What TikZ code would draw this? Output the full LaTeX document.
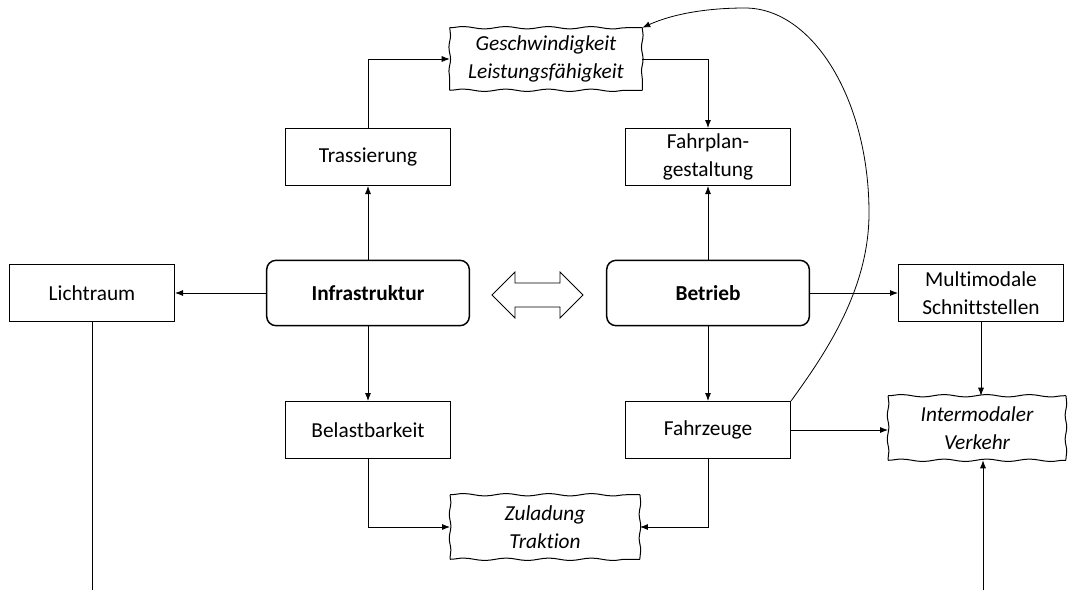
\documentclass[tikz,border=0pt]{standalone}
\usepackage{fontspec}
\setmainfont[Ligatures=NoCommon]{Carlito}
\usetikzlibrary{arrows.meta,decorations.pathmorphing,calc}
\newcommand\wavyborder[1]{%
  \draw[wvh] (#1.north west) -- (#1.north east);
  \draw[wvh] (#1.south west) -- (#1.south east);
  \draw[wvv] (#1.north west) -- (#1.south west);
  \draw[wvv] (#1.north east) -- (#1.south east);}
\begin{document}
\begin{tikzpicture}[x=0.75pt,y=-0.75pt,
  every node/.style={font=\fontsize{16}{21}\selectfont, align=center, inner sep=0pt},
  box/.style={draw, line width=0.75pt, minimum width=123.75pt, minimum height=42.75pt},
  rbox/.style={draw, line width=1.1pt, rounded corners=7pt, minimum width=152pt, minimum height=49pt, font=\fontsize{16}{21}\selectfont\bfseries},
  wavy/.style={font=\fontsize{16}{21}\selectfont\itshape},
  wvh/.style={line width=0.75pt, decorate, decoration={snake, amplitude=0.9pt, segment length=32pt}},
  wvv/.style={line width=0.75pt, decorate, decoration={snake, amplitude=0.6pt, segment length=18pt}},
  arr/.style={-{Latex[length=6pt,width=4.5pt]}, line width=0.6pt},
  ln/.style={line width=0.6pt},
]
\useasboundingbox (0,0) rectangle (1069,590);

\node[box] (licht) at (92,293) {Lichtraum};
\node[rbox] (infra) at (368,293) {Infrastruktur};
\node[rbox] (betr) at (708,293) {Betrieb};
\node[box] (multi) at (981,293) {Multimodale\\Schnittstellen};
\node[box] (trass) at (368,157) {Trassierung};
\node[box] (fahrpl) at (708,157) {Fahrplan-\\gestaltung};
\node[box] (belast) at (368,430) {Belastbarkeit};
\node[box] (fzg) at (708,430) {Fahrzeuge};
\node[wavy, minimum width=144pt, minimum height=46.5pt] (gesch) at (546,59) {Geschwindigkeit\\Leistungsfähigkeit};
\node[wavy, minimum width=142pt, minimum height=48pt] (zul) at (545,527) {Zuladung\\Traktion};
\node[wavy, minimum width=133pt, minimum height=48pt] (inter) at (977,428) {Intermodaler\\Verkehr};
\wavyborder{gesch}
\wavyborder{zul}
\wavyborder{inter}

\coordinate (licht end) at (92,590);
\coordinate (inter start) at (983,590);

% double arrow
\draw[line width=0.6pt] (492,295) -- (515,272) -- (515,283) -- (560,283) -- (560,272) -- (583,295)
  -- (560,318) -- (560,307) -- (515,307) -- (515,318) -- cycle;

\draw[arr] (infra) -- (licht);
\draw[arr] (infra) -- (trass);
\draw[arr] (infra) -- (belast);
\draw[arr] (betr) -- (fahrpl);
\draw[arr] (betr) -- (fzg);
\draw[arr] (betr) -- (multi);
\draw[arr] (trass.north) |- (gesch.west);
\draw[arr] (gesch.east) -| (fahrpl.north);
\draw[arr] (belast.south) |- (zul.west);
\draw[arr] (fzg.south) |- (zul.east);
\draw[arr] (fzg.east) -- (fzg.east -| inter.west);
\draw[arr] (multi.south) -- (multi.south |- inter.north);
\draw[arr] (inter start) -- (inter start |- inter.south);
\draw[ln] (licht.south) -- (licht end);
\coordinate (c1) at (869,213);
\coordinate (c2) at (745,8);
\draw[arr] (fzg.north east) .. controls (825,354) and (869,290) .. (c1)
  .. controls (869,100) and (813,8) .. (c2)
  .. controls (700,8) and (668,16) .. (gesch.north east);
\end{tikzpicture}
\end{document}
